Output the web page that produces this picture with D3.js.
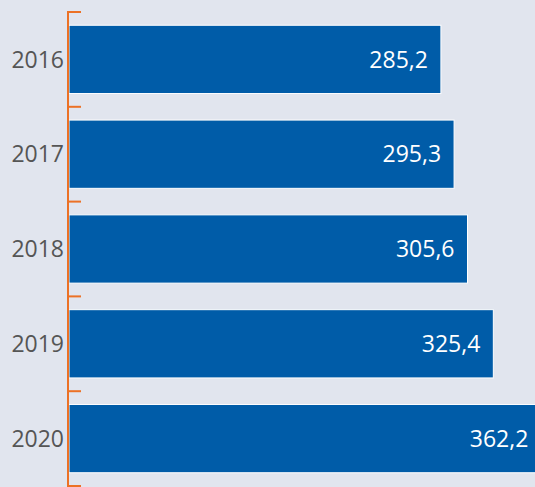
<!DOCTYPE html>
<html>
<head>
<meta charset="utf-8">
<script src="https://cdn.jsdelivr.net/npm/d3@7"></script>
<style>
  html, body { margin: 0; padding: 0; background: #e1e5ee; }
  svg { display: block; }
  text { font-family: "Open Sans", "Noto Sans", sans-serif; }
</style>
</head>
<body>
<div id="chart"></div>
<script>
var years = ["2016", "2017", "2018", "2019", "2020"];
var values = [285.2, 295.3, 305.6, 325.4, 362.2];
var labels = ["285,2", "295,3", "305,6", "325,4", "362,2"];

var width = 535, height = 487;
var marginLeft = 69, axisTop = 12, axisBottom = 486;

var svg = d3.select("#chart").append("svg")
    .attr("width", width)
    .attr("height", height);

svg.append("rect").attr("width", width).attr("height", height).attr("fill", "#e1e5ee");

var x = d3.scaleLinear().domain([0, 100]).range([marginLeft, marginLeft + 130.4]);

var y = d3.scaleBand().domain(years).range([axisTop, axisBottom])
    .paddingInner(0.28).paddingOuter(0.14);

// bars
svg.selectAll("rect.bar")
    .data(values)
    .enter().append("rect")
    .attr("class", "bar")
    .attr("x", x(0))
    .attr("y", function(d, i) { return y(years[i]); })
    .attr("width", function(d) { return x(d) - x(0); })
    .attr("height", y.bandwidth())
    .attr("fill", "#005ca8")
    .attr("stroke", "#ffffff")
    .attr("stroke-width", 1);

// value labels
svg.selectAll("text.val")
    .data(values)
    .enter().append("text")
    .attr("class", "val")
    .attr("x", function(d) { return x(d) - 13; })
    .attr("y", function(d, i) { return y(years[i]) + y.bandwidth() / 2; })
    .attr("dy", "0.36em")
    .attr("text-anchor", "end")
    .attr("fill", "#ffffff")
    .style("font-size", "23px")
    .text(function(d, i) { return labels[i]; });

// axis: orange line with ticks at band edges
var axis = svg.append("g").attr("class", "axis");
axis.append("line")
    .attr("x1", marginLeft - 1).attr("x2", marginLeft - 1)
    .attr("y1", axisTop).attr("y2", height)
    .attr("stroke", "#ec7125").attr("stroke-width", 2);

var edges = d3.range(years.length + 1).map(function(i) { return axisTop + i * y.step(); });
axis.selectAll("line.tick")
    .data(edges)
    .enter().append("line")
    .attr("class", "tick")
    .attr("x1", marginLeft - 2).attr("x2", marginLeft + 12)
    .attr("y1", function(d) { return d; }).attr("y2", function(d) { return d; })
    .attr("stroke", "#ec7125").attr("stroke-width", 2);

axis.selectAll("text.year")
    .data(years)
    .enter().append("text")
    .attr("class", "year")
    .attr("x", marginLeft - 5)
    .attr("y", function(d) { return y(d) + y.bandwidth() / 2; })
    .attr("dy", "0.36em")
    .attr("text-anchor", "end")
    .attr("fill", "#555555")
    .style("font-size", "23px")
    .text(function(d) { return d; });
</script>
</body>
</html>
